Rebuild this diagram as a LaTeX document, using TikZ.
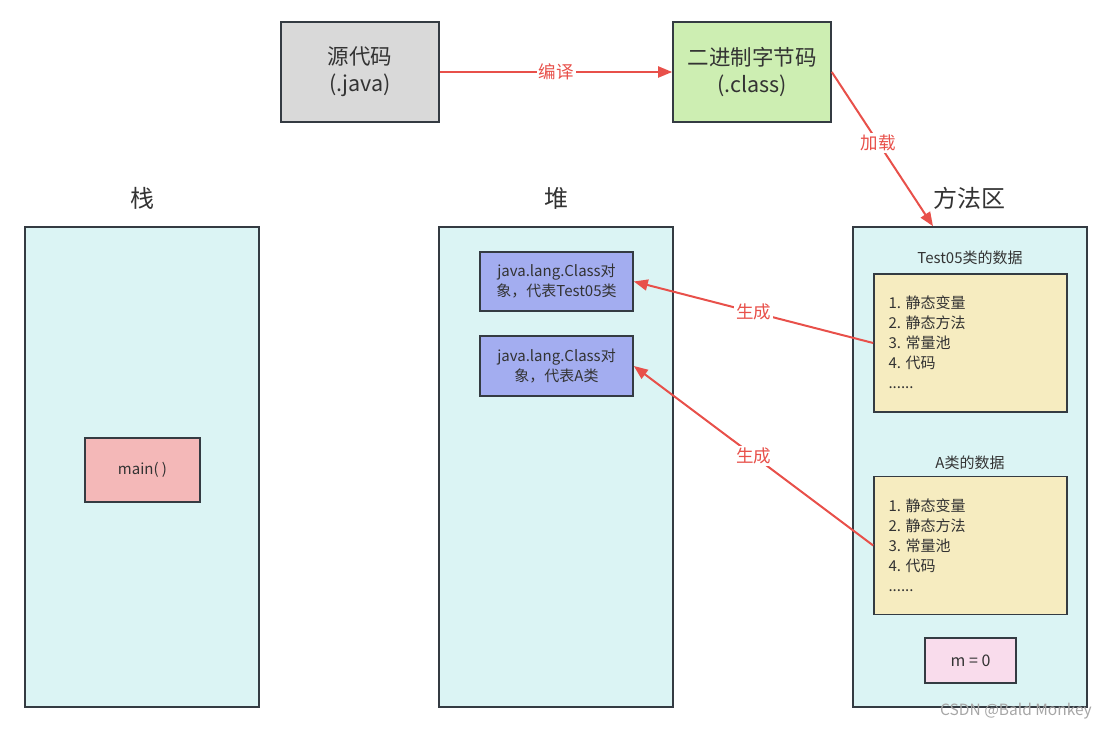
\documentclass[tikz,border=0pt]{standalone}
\usepackage{fontspec}
\setmainfont{Noto Sans CJK SC}
\usetikzlibrary{arrows.meta}
\definecolor{strokec}{HTML}{343B42}
\definecolor{redc}{HTML}{E8504A}
\definecolor{cyanc}{HTML}{DBF4F4}
\definecolor{grayc}{HTML}{D9D9D9}
\definecolor{greenc}{HTML}{CDEEB2}
\definecolor{pinkc}{HTML}{F4B8B8}
\definecolor{bluec}{HTML}{A3ADF0}
\definecolor{yellowc}{HTML}{F6ECC0}
\definecolor{lightpinkc}{HTML}{F9DCEC}
\definecolor{textc}{HTML}{333333}
\tikzset{
  box/.style={draw=strokec, line width=1.6pt, inner sep=0pt, text=textc, align=center},
  area/.style={box, fill=cyanc, minimum width=234, minimum height=480},
  head/.style={text=textc, font=\fontsize{24}{28}\selectfont},
  redarrow/.style={draw=redc, line width=2pt, -{Triangle[length=14pt,width=11pt]}},
  redlabel/.style={fill=white, text=redc, inner sep=2pt, font=\fontsize{17.5}{20}\selectfont},
  datalist/.style={box, fill=yellowc, minimum width=193, minimum height=138},
  small/.style={text=textc, font=\fontsize{15}{18}\selectfont}
}
\begin{document}
\begin{tikzpicture}[x=1pt,y=-1pt]
\useasboundingbox (0,0) rectangle (1111,730);
% top boxes
\node[box, fill=grayc, minimum width=158, minimum height=100, font=\fontsize{21.5}{27}\selectfont] (src) at (360,72) {源代码\\(.java)};
\node[box, fill=greenc, minimum width=158, minimum height=100, font=\fontsize{21.5}{27}\selectfont] (bin) at (752,72) {二进制字节码\\(.class)};
% areas
\node[area] (stack) at (142,467) {};
\node[area] (heap) at (556,467) {};
\node[area] (meth) at (970,467) {};
\node[head] (stackh) at (142,198) {栈};
\node[head] (heaph) at (556,198) {堆};
\node[head] (methh) at (969,198) {方法区};
% stack content
\node[box, fill=pinkc, minimum width=115, minimum height=64, font=\fontsize{15}{18}\selectfont] (main) at (142.5,470) {main( )};
% heap content
\node[box, fill=bluec, minimum width=153, minimum height=59, font=\fontsize{15}{20}\selectfont] (c1) at (556.5,281.5) {java.lang.Class对\\象，代表Test05类};
\node[box, fill=bluec, minimum width=153, minimum height=60, font=\fontsize{15}{20}\selectfont] (c2) at (556.5,366) {java.lang.Class对\\象，代表A类};
% method area content
\node[small] (t1) at (970,258) {Test05类的数据};
\node[datalist] (d1) at (970.5,343) {};
\node[small, anchor=west, align=left, font=\fontsize{15}{20}\selectfont] (d1t) at (885,342) {1. 静态变量\\2. 静态方法\\3. 常量池\\4. 代码\\......};
\node[small] (t2) at (970,463) {A类的数据};
\node[datalist] (d2) at (970.5,545.5) {};
\node[small, anchor=west, align=left, font=\fontsize{15}{20}\selectfont] (d2t) at (885,545) {1. 静态变量\\2. 静态方法\\3. 常量池\\4. 代码\\......};
\node[box, fill=lightpinkc, minimum width=91, minimum height=45, font=\fontsize{16}{18}\selectfont] (m0) at (970.5,660.5) {m = 0};
% arrows
\draw[redarrow] (src.east) -- node[redlabel] (l1) {编译} (bin.west);
\draw[redarrow] (bin.east) -- node[redlabel, pos=0.46] (l2) {加载} ([xshift=-37pt]meth.north);
\draw[redarrow] (d1.west) -- node[redlabel] (l3) {生成} (c1.east);
\draw[redarrow] (d2.west) -- node[redlabel] (l4) {生成} (c2.east);
% watermark
\node[text=black!35, font=\fontsize{15.5}{17}\selectfont] (wm) at (1016,711) {CSDN @Bald Monkey};
\end{tikzpicture}
\end{document}
